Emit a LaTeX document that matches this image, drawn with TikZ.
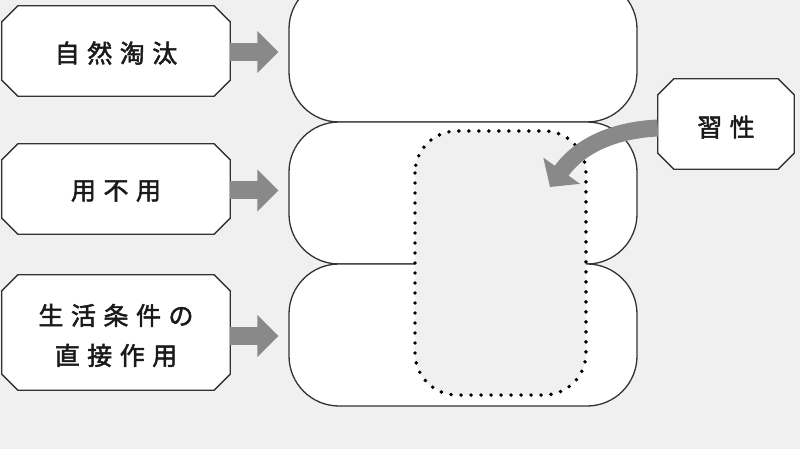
\documentclass[tikz,border=0pt]{standalone}
\usepackage{fontspec}
\newfontfamily\jp[LetterSpace=30,FakeBold=2]{Noto Sans CJK JP}
\usetikzlibrary{arrows.meta}
\definecolor{bg}{HTML}{F0F0F1}
\definecolor{edge}{HTML}{333333}
\definecolor{arr}{HTML}{898989}
\definecolor{ink}{HTML}{1A1A1A}
\pgfdeclarelayer{back}
\pgfdeclarelayer{mid}
\pgfsetlayers{back,mid,main}
\newcommand\octagon[1]{%
  \begin{pgfonlayer}{mid}
  \draw[octline] ([xshift=16pt]#1.north west) -- ([xshift=-16pt]#1.north east)
    -- ([yshift=-16pt]#1.north east) -- ([yshift=16pt]#1.south east)
    -- ([xshift=-16pt]#1.south east) -- ([xshift=16pt]#1.south west)
    -- ([yshift=16pt]#1.south west) -- ([yshift=-16pt]#1.north west) -- cycle;
  \end{pgfonlayer}}
\begin{document}
\begin{tikzpicture}[x=1pt,y=-1pt,
  bigbox/.style={draw=edge, line width=1.3pt, fill=white, rounded corners=50pt,
    minimum width=348pt, minimum height=142pt, inner sep=0pt},
  zonefill/.style={fill=bg, rounded corners=42pt},
  zoneline/.style={draw=black, line width=3.9pt, line cap=round,
    dash pattern=on 0pt off 10pt, rounded corners=42pt},
  frame/.style={inner sep=0pt, minimum width=228pt, minimum height=90pt},
  txt/.style={font=\jp\fontsize{25}{40}\selectfont, text=ink, align=center, inner sep=0pt},
  octline/.style={draw=edge, line width=1.3pt, fill=white},
  blockarrow/.style={draw=arr, line width=18pt, -{Triangle[length=21pt,width=41pt]},
    shorten >=10pt},
  curvearrow/.style={draw=arr, line width=17pt, -{Triangle[length=20pt,width=44pt]}}
]
\useasboundingbox (0,0) rectangle (800,449);
\begin{pgfonlayer}{back}
  \fill[bg] (0,0) rectangle (800,449);
\end{pgfonlayer}

% big rounded boxes
\node[bigbox, minimum height=143pt] (big1) at (463,50.5) {};
\node[bigbox] (big2) at (463,193) {};
\node[bigbox] (big3) at (463,335) {};

% dotted zone
\coordinate (z1) at (415,131);
\coordinate (z2) at (586,395);
\fill[zonefill] (z1) rectangle (z2);
\draw[zoneline] (z1) rectangle (z2);

% label frames
\node[frame] (a) at (116,51) {};
\node[frame] (b) at (116,189) {};
\node[frame, minimum height=115pt] (c) at (116,332.5) {};
\node[frame, minimum width=136pt] (shu) at (726,124) {};
\octagon{a}
\octagon{b}
\octagon{c}
\octagon{shu}

% label texts
\node[txt] (ta) at ([yshift=-2pt]a.center) {自然淘汰};
\node[txt] (tb) at ([yshift=-2pt]b.center) {用不用};
\node[txt] (tc) at ([yshift=-3pt]c.center) {生活条件の\\直接作用};
\node[txt] (tshu) at ([yshift=-3pt]shu.center) {習性};

% arrows
\draw[blockarrow] ([yshift=-1pt]a.east) -- ([yshift=-1pt]a.east -| big1.west);
\draw[blockarrow] ([yshift=-1.5pt]b.east) -- ([yshift=-1.5pt]b.east -| big2.west);
\draw[blockarrow] ([yshift=-3.5pt]c.east) -- ([yshift=-3.5pt]c.east -| big3.west);

\coordinate (tip) at (550,187);
\draw[curvearrow] ([yshift=-4pt]shu.west) .. controls (615,130) and (580,145) .. (tip);
\end{tikzpicture}
\end{document}
